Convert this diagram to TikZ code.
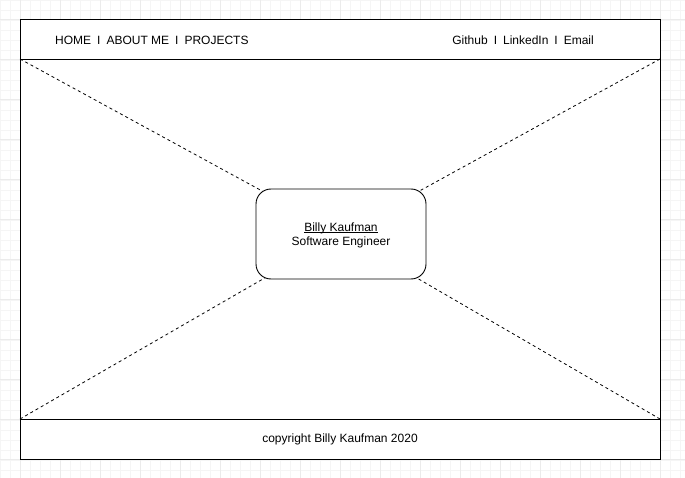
\documentclass[tikz,border=0pt]{standalone}
\usepackage{fontspec}
\setmainfont{Liberation Sans}
\definecolor{gridminor}{HTML}{F5F5F5}
\definecolor{gridmajor}{HTML}{EBEBEB}
\newcommand{\myul}[1]{\setbox0=\hbox{#1}\rlap{\rule[-1.4pt]{\wd0}{0.7pt}}\box0}
\begin{document}
\begin{tikzpicture}[x=1pt,y=-1pt,
  frame/.style={draw=black,line width=0.9pt},
  dashline/.style={draw=black,line width=0.8pt,dash pattern=on 3pt off 3pt},
  txt/.style={font=\fontsize{12}{14}\selectfont,inner sep=0pt,anchor=center}]
\useasboundingbox (0,0) rectangle (685,478);
\fill[white] (0,0) rectangle (685,478);
% grid
\foreach \x in {0,10,...,680} \draw[gridminor,line width=0.6pt] (\x,0) -- (\x,478);
\foreach \y in {0,10,...,470} \draw[gridminor,line width=0.6pt] (0,\y) -- (685,\y);
\foreach \x in {20,60,...,680} \draw[gridmajor,line width=0.6pt] (\x,0) -- (\x,478);
\foreach \y in {19,59,...,470} \draw[gridmajor,line width=0.6pt] (0,\y) -- (685,\y);
% main frame
\node[frame,fill=white,minimum width=640pt,minimum height=440pt,inner sep=0pt,anchor=north west] (page) at (20,19) {};
\coordinate (hl) at (20,59);
\coordinate (hr) at (660,59);
\coordinate (fl) at (20,419);
\coordinate (fr) at (660,419);
\coordinate (ctr) at (341,234);
% dashed lines
\draw[dashline] (hl) -- (ctr);
\draw[dashline] (hr) -- (ctr);
\draw[dashline] (fl) -- (ctr);
\draw[dashline] (fr) -- (ctr);
% header/footer lines
\draw[frame] (hl) -- (hr);
\draw[frame] (fl) -- (fr);
% center box
\node[frame,fill=white,rounded corners=15pt,minimum width=170pt,minimum height=90pt,inner sep=0pt] (hero) at (ctr) {};
\node[txt] (name) at (341,228) {\myul{Billy Kaufman}};
\node[txt] (role) at (341,242) {Software Engineer};
% nav
\node[txt,anchor=west] (nav) at (55,40) {HOME\hspace{6pt}I\hspace{6pt}ABOUT ME\hspace{6pt}I\hspace{6pt}PROJECTS};
\node[txt,anchor=east] (links) at (594,40) {Github\hspace{6pt}I\hspace{6pt}LinkedIn\hspace{6pt}I\hspace{6pt}Email};
% footer
\node[txt] (foot) at (340,439) {copyright Billy Kaufman 2020};
\end{tikzpicture}
\end{document}
